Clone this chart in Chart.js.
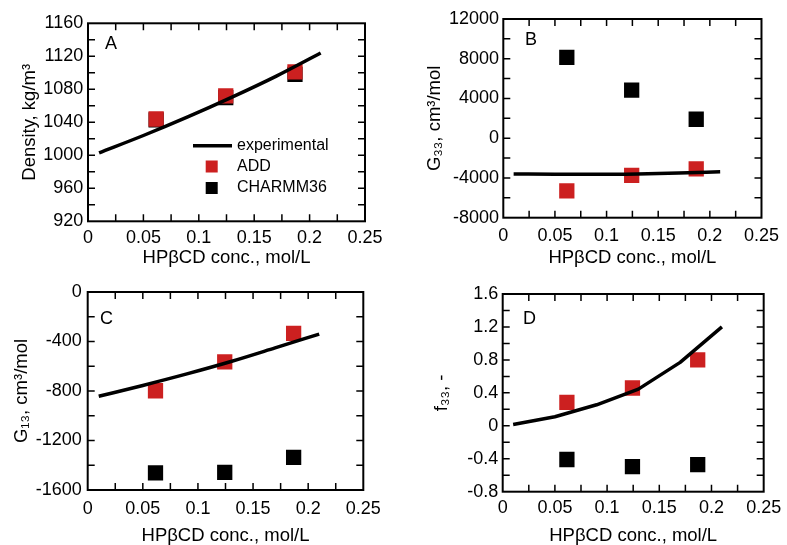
<!DOCTYPE html>
<html><head><meta charset="utf-8">
<script src="https://cdn.jsdelivr.net/npm/chart.js@4"></script>
<style>
html,body{margin:0;padding:0;background:#fff;width:787px;height:545px;overflow:hidden}
canvas{position:absolute}
</style></head><body>
<canvas id="cA" style="left:0px;top:0px" width="393" height="272"></canvas>
<canvas id="cB" style="left:393px;top:0px" width="394" height="272"></canvas>
<canvas id="cC" style="left:0px;top:272px" width="393" height="273"></canvas>
<canvas id="cD" style="left:393px;top:272px" width="394" height="273"></canvas>
<script>
// ---- data ----
const conc = [0.0615, 0.1243, 0.1868];
const expConc = [0.01, 0.05, 0.09, 0.13, 0.17, 0.21];

const densityExp = [1003, 1024, 1046.5, 1070.5, 1096, 1124];
const densityADD = [1044, 1072, 1101];
const densityCHARMM = [1043, 1070, 1098];

const g33Exp = [-3600, -3620, -3630, -3590, -3500, -3380];
const g33ADD = [-5300, -3730, -3085];
const g33CHARMM = [8130, 4830, 1910];

const g13Exp = [-843, -755, -662, -562, -452, -340];
const g13ADD = [-798, -564, -335];
const g13CHARMM = [-1462, -1458, -1337];

const f33Exp = [0.015, 0.11, 0.255, 0.445, 0.77, 1.2];
const f33ADD = [0.283, 0.459, 0.801];
const f33CHARMM = [-0.409, -0.496, -0.470];

const xTicks = [0, 0.05, 0.1, 0.15, 0.2, 0.25];
const xTickLabels = ['0', '0.05', '0.1', '0.15', '0.2', '0.25'];
const yTicksA = [920, 960, 1000, 1040, 1080, 1120, 1160];
const yTickLabelsA = ['920', '960', '1000', '1040', '1080', '1120', '1160'];
const yTicksB = [-8000, -4000, 0, 4000, 8000, 12000];
const yTickLabelsB = ['-8000', '-4000', '0', '4000', '8000', '12000'];
const yTicksC = [-1600, -1200, -800, -400, 0];
const yTickLabelsC = ['-1600', '-1200', '-800', '-400', '0'];
const yTicksD = [-0.8, -0.4, 0, 0.4, 0.8, 1.2, 1.6];
const yTickLabelsD = ['-0.8', '-0.4', '0', '0.4', '0.8', '1.2', '1.6'];

const seriesNames = ['experimental', 'ADD', 'CHARMM36'];
const xTitle = 'HPβCD conc., mol/L';
const RED = '#cc2020';
const FONT = "'Liberation Sans', Arial, sans-serif";

const pts = (xs, ys) => xs.map((v, i) => ({x: v, y: ys[i]}));

const framePlugin = {
  id: 'frame',
  afterDatasetsDraw(chart, args, o) {
    const {ctx, chartArea: a, scales: {x, y}} = chart;
    ctx.save();
    ctx.strokeStyle = '#000';
    ctx.lineWidth = 1.5;
    ctx.beginPath();
    const nx = Math.round((x.max - x.min) / o.minorX);
    for (let i = 1; i < nx; i++) {
      const px = x.getPixelForValue(x.min + i * o.minorX);
      ctx.moveTo(px, a.bottom); ctx.lineTo(px, a.bottom - 7);
      ctx.moveTo(px, a.top); ctx.lineTo(px, a.top + 7);
    }
    const ny = Math.round((y.max - y.min) / o.minorY);
    for (let i = 1; i < ny; i++) {
      const py = y.getPixelForValue(y.min + i * o.minorY);
      ctx.moveTo(a.left, py); ctx.lineTo(a.left + 7, py);
      ctx.moveTo(a.right, py); ctx.lineTo(a.right - 7, py);
    }
    ctx.stroke();
    ctx.lineWidth = 2;
    ctx.strokeRect(a.left, a.top, a.width, a.height);
    // panel letter
    ctx.fillStyle = '#000';
    ctx.font = '18px ' + FONT;
    ctx.textAlign = 'left';
    ctx.textBaseline = 'middle';
    ctx.fillText(o.letter, a.left + o.letterDx, a.top + o.letterDy);
    // legend
    if (o.legend) {
      const L = o.legend;
      ctx.font = '16px ' + FONT;
      ctx.lineWidth = 3.5;
      ctx.beginPath();
      ctx.moveTo(L.x, L.y); ctx.lineTo(L.x + 39, L.y);
      ctx.stroke();
      ctx.fillStyle = RED;
      ctx.fillRect(L.x + 12.7, L.y + 20.8 - 6, 12, 12);
      ctx.fillStyle = '#000';
      ctx.fillRect(L.x + 12.7, L.y + 42.3 - 6, 12, 12);
      ctx.fillText(seriesNames[0], L.x + 44, L.y);
      ctx.fillText(seriesNames[1], L.x + 44, L.y + 20.8);
      ctx.fillText(seriesNames[2], L.x + 44, L.y + 42.3);
    }
    ctx.restore();
  }
};

function makeChart(id, p) {
  return new Chart(document.getElementById(id), {
    type: 'scatter',
    data: {
      datasets: [
        {label: seriesNames[0], type: 'line', data: pts(expConc, p.exp), borderColor: '#000',
         borderWidth: 3.5, pointRadius: 0, fill: false, borderCapStyle: 'butt', borderJoinStyle: 'round',
         cubicInterpolationMode: p.smooth ? 'monotone' : 'default', tension: 0},
        {label: seriesNames[1], data: pts(conc, p.add), pointStyle: 'rect', pointRadius: 10.8,
         backgroundColor: RED, borderColor: RED, borderWidth: 0},
        {label: seriesNames[2], data: pts(conc, p.charmm), pointStyle: 'rect', pointRadius: 10.8,
         backgroundColor: '#000', borderColor: '#000', borderWidth: 0}
      ]
    },
    options: {
      responsive: false, animation: false, devicePixelRatio: 1,
      layout: {padding: p.pad},
      plugins: {legend: {display: false}, tooltip: {enabled: false},
        frame: {minorX: 0.025, minorY: p.minorY, letter: p.letter, letterDx: p.letterDx, letterDy: p.letterDy, legend: p.legend}},
      scales: {
        x: {
          type: 'linear', min: 0, max: 0.25,
          afterBuildTicks: s => { s.ticks = xTicks.map(v => ({value: v})); },
          afterFit: s => { s.height = p.xHeight; },
          grid: {display: false, drawTicks: false},
          border: {display: false},
          ticks: {autoSkip: false, maxRotation: 0, padding: p.xTickPad, color: '#000',
            font: {family: FONT, size: 18}, callback: (v, i) => xTickLabels[i]},
          title: {display: true, text: xTitle, color: '#000',
            font: {family: FONT, size: 18.5, lineHeight: 1}, padding: {top: 0, bottom: p.xTitlePad}}
        },
        y: {
          type: 'linear', min: p.yTicks[0], max: p.yTicks[p.yTicks.length - 1],
          afterBuildTicks: s => { s.ticks = p.yTicks.map(v => ({value: v})); },
          afterFit: s => { s.width = p.yWidth; },
          grid: {display: false, drawTicks: false},
          border: {display: false},
          ticks: {autoSkip: false, padding: p.yTickPad, color: '#000',
            font: {family: FONT, size: 18}, callback: (v, i) => p.yLabels[i]},
          title: {display: true, text: p.yTitle, color: '#000',
            font: {family: FONT, size: 18.5, lineHeight: 1}, padding: {top: p.yTitlePad, bottom: 0}}
        }
      }
    },
    plugins: [framePlugin]
  });
}

makeChart('cA', {
  exp: densityExp, add: densityADD, charmm: densityCHARMM, smooth: true,
  yTicks: yTicksA, yLabels: yTickLabelsA, minorY: 20, yTitle: 'Density, kg/m³',
  pad: {left: 0, top: 23.3, right: 28, bottom: 0}, yWidth: 88, xHeight: 50.7,
  xTickPad: 6.4, yTickPad: 4.7, xTitlePad: 5.25, yTitlePad: 21,
  letter: 'A', letterDx: 17, letterDy: 21.2,
  legend: {x: 193, y: 145.7}
});
makeChart('cB', {
  exp: g33Exp, add: g33ADD, charmm: g33CHARMM, smooth: true,
  yTicks: yTicksB, yLabels: yTickLabelsB, minorY: 2000, yTitle: 'G₃₃, cm³/mol',
  pad: {left: 0, top: 19, right: 17.7, bottom: 0}, yWidth: 110.3, xHeight: 54.3,
  xTickPad: 8, yTickPad: 4.3, xTitlePad: 5.25, yTitlePad: 32.75,
  letter: 'B', letterDx: 21.7, letterDy: 21.5
});
makeChart('cC', {
  exp: g13Exp, add: g13ADD, charmm: g13CHARMM, smooth: true,
  yTicks: yTicksC, yLabels: yTickLabelsC, minorY: 200, yTitle: 'G₁₃, cm³/mol',
  pad: {left: 0, top: 20, right: 29.7, bottom: 0}, yWidth: 87.7, xHeight: 55,
  xTickPad: 8.4, yTickPad: 6, xTitlePad: 0, yTitlePad: 12.4,
  letter: 'C', letterDx: 12.3, letterDy: 27
});
makeChart('cD', {
  exp: f33Exp, add: f33ADD, charmm: f33CHARMM, smooth: false,
  yTicks: yTicksD, yLabels: yTickLabelsD, minorY: 0.2, yTitle: 'f₃₃, -',
  pad: {left: 0, top: 22, right: 18.7, bottom: 0}, yWidth: 109.7, xHeight: 53.3,
  xTickPad: 5.8, yTickPad: 4.4, xTitlePad: 0, yTitlePad: 39.4,
  letter: 'D', letterDx: 20.3, letterDy: 25
});
</script>
</body></html>
